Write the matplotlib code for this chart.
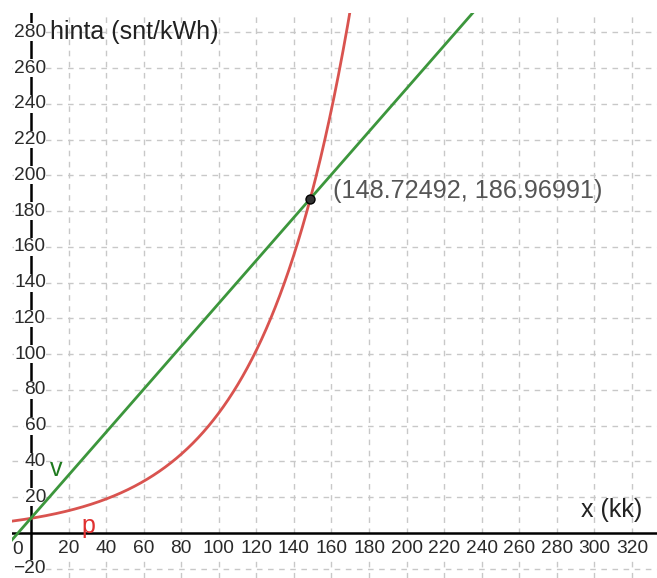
import numpy as np
import matplotlib
matplotlib.use("Agg")
import matplotlib.pyplot as plt

# ---- data ----
x_ticks = [20, 40, 60, 80, 100, 120, 140, 160, 180, 200, 220, 240, 260, 280, 300, 320]
y_ticks = [-20, 20, 40, 60, 80, 100, 120, 140, 160, 180, 200, 220, 240, 260, 280]
intersection = (148.72492, 186.96991)
p_start = 8.2          # p(0)
v_start = 8.3          # v(0)
x_label = "x (kk)"
y_label = "hinta (snt/kWh)"

# curve parameters chosen so both pass through the intersection point
p_rate = np.log(intersection[1] / p_start) / intersection[0]
v_slope = (intersection[1] - v_start) / intersection[0]

W, H = 657, 578
xmin, xmax = -10.1, 333.3
ymin, ymax = -25.17, 290.8

plt.rcParams['font.family'] = ['Liberation Sans', 'DejaVu Sans']
fig = plt.figure(figsize=(W / 100, H / 100), dpi=100)
ax = fig.add_axes([12 / W, 0, (W - 12) / W, (H - 13) / H])
ax.set_xlim(xmin, xmax)
ax.set_ylim(ymin, ymax)
for s in ax.spines.values():
    s.set_visible(False)
ax.set_xticks([])
ax.set_yticks([])

grid_col = "#c8c8c8"
for gx in np.arange(-20, 341, 20):
    if gx != 0:
        ax.axvline(gx, color=grid_col, lw=1, ls=(0, (4, 4)), zorder=0)
for gy in np.arange(-20, 301, 20):
    if gy != 0:
        ax.axhline(gy, color=grid_col, lw=1, ls=(0, (4, 4)), zorder=0)

ax.axhline(0, color="black", lw=1.8, zorder=1)
ax.axvline(0, color="black", lw=1.8, zorder=1)

tick_fs = 13.8
tick_col = "#2a2a2a"
bb = dict(facecolor="white", edgecolor="none", pad=0.3)
for t in x_ticks:
    ax.text(t, -8.8, str(t), ha="center", va="center", fontsize=tick_fs, color=tick_col, bbox=bb, zorder=2)
ax.text(-7.3, -9.0, "0", ha="center", va="center", fontsize=tick_fs, color=tick_col, bbox=bb, zorder=2)
for t in y_ticks:
    lab = str(t).replace("-", "\u2212")
    ax.text(8.0, t, lab, ha="right", va="center", fontsize=tick_fs, color=tick_col, bbox=bb, zorder=2)

ax.text(10.0, 280.3, y_label, ha="left", va="center", fontsize=18, color="#222222", zorder=3)
ax.text(325.5, 12.9, x_label, ha="right", va="center", fontsize=18, color="#222222", zorder=3)

xs = np.linspace(xmin, xmax, 3000)
p_vals = p_start * np.exp(p_rate * xs)
v_vals = v_start + v_slope * xs
ax.plot(xs, p_vals, color="#d9534f", lw=2, zorder=4)
ax.plot(xs, v_vals, color="#3c963c", lw=2, zorder=4)

ax.scatter([intersection[0]], [intersection[1]], s=42, color="#333333", edgecolor="black", zorder=6)
ax.text(160.8, 191.5, "(%.5f, %.5f)" % intersection, ha="left", va="center",
        fontsize=18.2, color="#555555", zorder=6)

ax.text(13.5, 36, "v", ha="center", va="center", fontsize=18, color="#1e7a1e", zorder=5)
ax.text(30.5, 4.0, "p", ha="center", va="center", fontsize=18, color="#e03030", zorder=5)

fig.savefig("out.png", dpi=100)
